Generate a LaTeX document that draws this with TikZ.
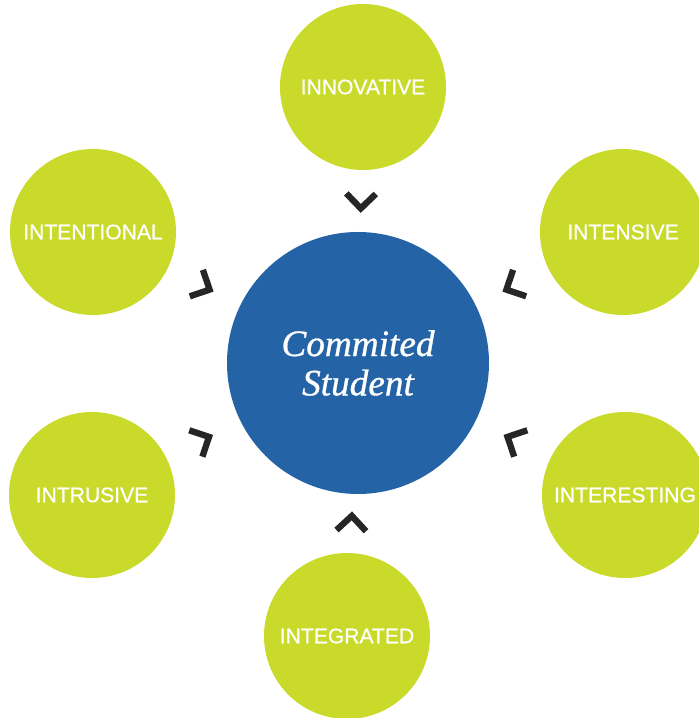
\documentclass[tikz,border=0pt]{standalone}
\usepackage{fontspec}
\setmainfont{Liberation Serif}
\setsansfont{Liberation Sans}
\newfontfamily\labelfont[FakeBold=0.7]{Liberation Sans}
\newfontfamily\studentfont[FakeBold=0.8]{Liberation Serif}
\usepackage{tikz}
\usetikzlibrary{decorations.markings}
\usepackage{xcolor}
\definecolor{dflime}{RGB}{201,218,42}
\definecolor{dfblue}{RGB}{35,99,166}
\definecolor{dfdark}{RGB}{38,38,38}
\tikzstyle{quality} = [circle, fill=dflime, minimum size=4.15cm, inner sep=0pt, text=white, font=\labelfont\fontsize{15}{18}\selectfont]
\tikzstyle{chevron} = [decoration={markings, mark=at position 0.44 with {\draw[dfdark, line width=4.5pt, miter limit=10] (-10.5pt,10.5pt) -- (0,0) -- (-10.5pt,-10.5pt);}}, decorate]

\begin{document}
\begin{tikzpicture}
\useasboundingbox (0,0) rectangle (17.45,17.95);
% Student in the middle
\node[circle, fill=dfblue, minimum size=6.55cm, inner sep=0pt, text=white, align=center, font=\studentfont\itshape\fontsize{26.5}{28}\selectfont] (student) at (8.95,8.875) {Commited\\Student};

% Qualities around
\node[quality] (innov) at (9.075,15.775) {INNOVATIVE};
\node[quality] (intent) at (2.325,12.15) {INTENTIONAL};
\node[quality] (intens) at (15.575,12.15) {INTENSIVE};
\node[quality] (intrus) at (2.3,5.575) {INTRUSIVE};
\node[quality] (interest) at (15.625,5.575) {INTERESTING};
\node[quality] (integ) at (8.675,2.05) {INTEGRATED};

% Chevrons
\path[chevron] (innov.center) -- (student.center);
\path[chevron] (intent.center) -- (student.center);
\path[chevron] (intens.center) -- (student.center);
\path[chevron] (intrus.center) -- (student.center);
\path[chevron] (interest.center) -- (student.center);
\path[chevron] (integ.center) -- (student.center);
\end{tikzpicture}
\end{document}
